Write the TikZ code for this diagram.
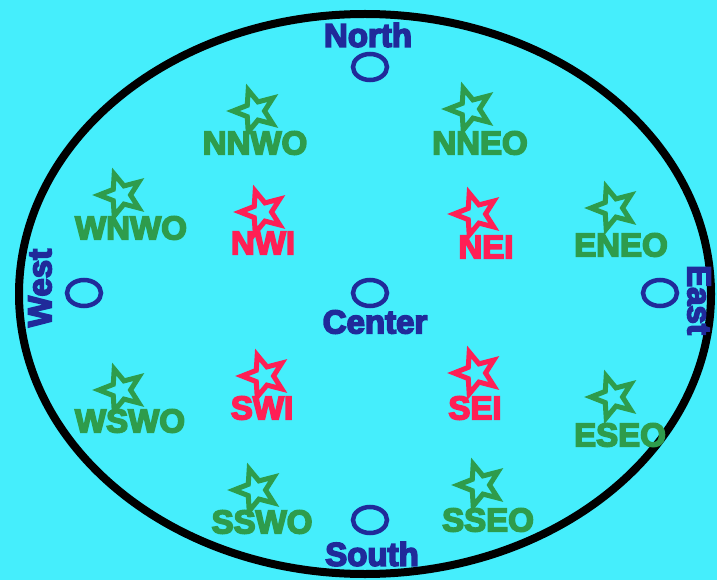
\documentclass[tikz,border=0pt]{standalone}
\usepackage{fontspec}
\setmainfont{Liberation Sans}[BoldFeatures={FakeBold=5}]
\usetikzlibrary{shapes.geometric}
\definecolor{bgcyan}{HTML}{45EEFC}
\definecolor{mblue}{HTML}{202A9A}
\definecolor{mgreen}{HTML}{2E9C4C}
\definecolor{mred}{HTML}{FF1F55}
\tikzset{
  lbl/.style={inner sep=0pt, font=\fontsize{33}{33}\selectfont\bfseries},
  bluelbl/.style={lbl, text=mblue},
  greenlbl/.style={lbl, text=mgreen},
  redlbl/.style={lbl, text=mred},
  ring/.style={draw=mblue, line width=4.5pt, ellipse, minimum width=34pt, minimum height=26pt, inner sep=0pt},
  starmark/.style={star, star points=5, star point ratio=2.3, minimum size=44pt, inner sep=0pt, line width=5pt, rotate=18},
  gstar/.style={starmark, draw=mgreen},
  rstar/.style={starmark, draw=mred}
}
\begin{document}
\begin{tikzpicture}[x=1pt,y=-1pt]
\fill[bgcyan] (0,0) rectangle (717,580);
\useasboundingbox (0,0) rectangle (717,580);
\draw[line width=8pt] (365,294) ellipse [x radius=346pt, y radius=280pt];
% compass points
\node[bluelbl] (north) at (368,35) {North};
\node[ring] (northc) at (370,67) {};
\node[ring] (centerc) at (370,293) {};
\node[bluelbl] (center) at (375,322) {Center};
\node[ring] (southc) at (370,520) {};
\node[bluelbl] (south) at (372,554) {South};
\node[ring] (westc) at (84,293) {};
\node[bluelbl, rotate=90] (west) at (40,288) {West};
\node[ring] (eastc) at (660,293) {};
\node[bluelbl, rotate=-90] (east) at (699,300) {East};
% outer green
\node[gstar] (nnwos) at (255,111) {};
\node[greenlbl] (nnwo) at (255,143) {NNWO};
\node[gstar] (nneos) at (470,109) {};
\node[greenlbl] (nneo) at (480,143) {NNEO};
\node[gstar] (wnwos) at (121,195) {};
\node[greenlbl] (wnwo) at (131,228) {WNWO};
\node[gstar] (eneos) at (613,208) {};
\node[greenlbl] (eneo) at (621,245) {ENEO};
\node[gstar] (wswos) at (121,390) {};
\node[greenlbl] (wswo) at (130,421) {WSWO};
\node[gstar] (eseos) at (613,397) {};
\node[greenlbl] (eseo) at (620,435) {ESEO};
\node[gstar] (sswos) at (256,490) {};
\node[greenlbl] (sswo) at (262,522) {SSWO};
\node[gstar] (sseos) at (480,485) {};
\node[greenlbl] (sseo) at (488,520) {SSEO};
% inner red
\node[rstar] (nwis) at (262,212) {};
\node[redlbl] (nwi) at (263,243) {NWI};
\node[rstar] (neis) at (476,214) {};
\node[redlbl] (nei) at (486,247) {NEI};
\node[rstar] (swis) at (264,376) {};
\node[redlbl] (swi) at (262,408) {SWI};
\node[rstar] (seis) at (476,373) {};
\node[redlbl] (sei) at (475,408) {SEI};
\end{tikzpicture}
\end{document}
